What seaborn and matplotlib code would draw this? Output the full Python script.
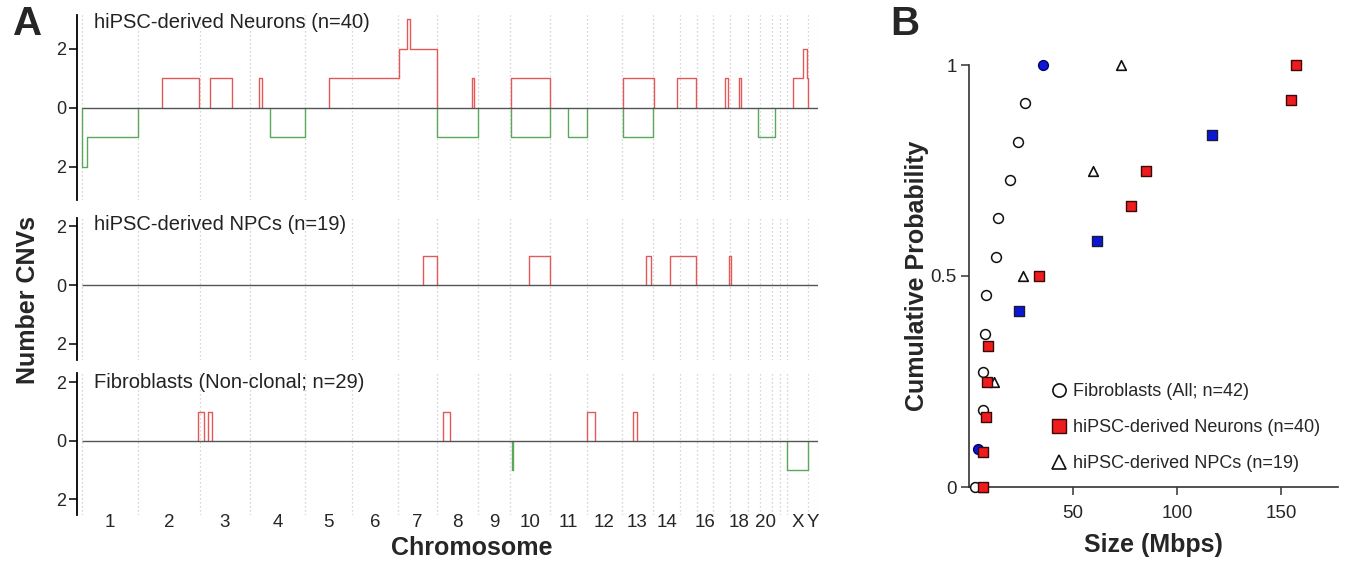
import numpy as np
import pandas as pd
import matplotlib
matplotlib.use("Agg")
import matplotlib.pyplot as plt
import seaborn as sns
from matplotlib.lines import Line2D

sns.set_theme(style="white")
plt.rcParams["font.family"] = ["Liberation Sans", "DejaVu Sans"]

# ---------------- data: panel A ----------------
chrom_names = ["1", "2", "3", "4", "5", "6", "7", "8", "9", "10", "11", "12", "13",
               "14", "15", "16", "17", "18", "19", "20", "21", "22", "X", "Y"]
chrom_sizes = [224, 248, 200, 220, 188, 184, 156, 164, 128, 160, 148, 140, 124,
               108, 68, 64, 68, 72, 48, 48, 32, 28, 84, 40]
chrom_labels_shown = ["1", "2", "3", "4", "5", "6", "7", "8", "9", "10", "11", "12",
                      "13", "14", "16", "18", "20", "X", "Y"]

neuron_gain_start = [320, 512, 708, 988, 1268, 1300, 1560, 1716, 2164, 2380, 2572, 2628, 2844, 2884]
neuron_gain_end = [468, 600, 720, 1420, 1420, 1312, 1568, 1872, 2288, 2456, 2584, 2636, 2904, 2900]
neuron_loss_start = [0, 0, 752, 1420, 1716, 1944, 2164, 2704]
neuron_loss_end = [224, 19, 892, 1584, 1872, 2020, 2284, 2772]

npc_gain_start = [1364, 1788, 2256, 2352, 2588]
npc_gain_end = [1420, 1872, 2276, 2456, 2596]
npc_loss_start = []
npc_loss_end = []

fib_gain_start = [464, 504, 1444, 2020, 2204]
fib_gain_end = [488, 520, 1472, 2052, 2220]
fib_loss_start = [1718, 2820]
fib_loss_end = [1722, 2904]

track_titles = ["hiPSC-derived Neurons (n=40)", "hiPSC-derived NPCs (n=19)",
                "Fibroblasts (Non-clonal; n=29)"]

# ---------------- data: panel B ----------------
fib_size = [2.9, 4.2, 6.6, 6.9, 7.7, 8.2, 13.1, 14.1, 19.7, 23.4, 27.0, 35.4]
fib_prob = [0, 1/11, 2/11, 3/11, 4/11, 5/11, 6/11, 7/11, 8/11, 9/11, 10/11, 1]
fib_highlight = [0, 1, 0, 0, 0, 0, 0, 0, 0, 0, 0, 1]

neu_size = [6.9, 6.9, 8.2, 8.8, 9.0, 23.9, 33.5, 61.4, 78.0, 85.0, 117.0, 154.7, 157.1]
neu_prob = [0, 1/12, 2/12, 3/12, 4/12, 5/12, 6/12, 7/12, 8/12, 9/12, 10/12, 11/12, 1]
neu_highlight = [0, 0, 0, 0, 0, 1, 0, 1, 0, 0, 1, 0, 0]

npc_size = [6.9, 12.0, 25.8, 59.8, 73.0]
npc_prob = [0, 0.25, 0.5, 0.75, 1]

legend_labels = ["Fibroblasts (All; n=42)", "hiPSC-derived Neurons (n=40)",
                 "hiPSC-derived NPCs (n=19)"]

# ---------------- helpers ----------------
bounds = np.concatenate([[0], np.cumsum(chrom_sizes)])
genome_end = bounds[-1]
mids = {n: (bounds[i] + bounds[i + 1]) / 2 for i, n in enumerate(chrom_names)}


def runs(starts, ends):
    """Outline (x, y) of every contiguous non-zero stretch of the coverage step function."""
    if not starts:
        return []
    pts = sorted(set(starts) | set(ends))
    out, xs, ys = [], [], []
    for a, b in zip(pts[:-1], pts[1:]):
        v = sum(1 for s, e in zip(starts, ends) if s <= a and e >= b)
        if v > 0:
            if not xs:
                xs, ys = [a], [0]
            xs += [a, b]
            ys += [v, v]
        else:
            if xs:
                xs.append(xs[-1]); ys.append(0)
                out.append((xs, ys))
                xs, ys = [], []
    if xs:
        xs.append(xs[-1]); ys.append(0)
        out.append((xs, ys))
    return out


fig = plt.figure(figsize=(13.46, 5.62), dpi=100)
W, H = 1346, 562

RED = "#e4585a"
GREEN = "#5aa85a"
ZERO = "#555555"

tracks = [
    (neuron_gain_start, neuron_gain_end, neuron_loss_start, neuron_loss_end, (15, 200), (-3.12, 3.15), 22),
    (npc_gain_start, npc_gain_end, npc_loss_start, npc_loss_end, (218, 360), (-2.56, 2.29), 225),
    (fib_gain_start, fib_gain_end, fib_loss_start, fib_loss_end, (373, 515), (-2.53, 2.32), 383),
]

axL, axR = 77, 818
for i, (gs, ge, ls, le, (ytop, ybot), ylim, ytitle) in enumerate(tracks):
    ax = fig.add_axes([axL / W, 1 - ybot / H, (axR - axL) / W, (ybot - ytop) / H])
    ax.set_xlim(-20, genome_end)
    ax.set_ylim(*ylim)
    for b in bounds:
        ax.axvline(b, color="#c9c9c9", lw=0.9, ls=(0, (1, 2.2)), zorder=0)
    for xs, ys in runs(gs, ge):
        sns.lineplot(x=xs, y=ys, sort=False, estimator=None, color=RED, lw=1.0, ax=ax, zorder=2)
    for xs, ys in runs(ls, le):
        sns.lineplot(x=xs, y=-np.array(ys), sort=False, estimator=None, color=GREEN, lw=1.0, ax=ax, zorder=2)
    ax.hlines(0, 0, genome_end, color=ZERO, lw=1.0, zorder=3)
    for s in ["top", "right", "bottom"]:
        ax.spines[s].set_visible(False)
    ax.spines["left"].set_color("black")
    ax.spines["left"].set_linewidth(1.3)
    ax.set_yticks([-2, 0, 2])
    ax.set_yticklabels(["2", "0", "2"])
    ax.tick_params(axis="y", direction="out", length=6, width=1.1, labelsize=13, pad=2,
                   left=True, color="black")
    if i < 2:
        ax.set_xticks([])
    else:
        ax.set_xticks([mids[n] for n in chrom_labels_shown])
        ax.set_xticklabels(chrom_labels_shown)
        ax.tick_params(axis="x", length=0, labelsize=13.5, pad=-1)
    ax.set_xlabel("")
    ax.set_ylabel("")
    ax.text(0.023, 1 - (ytitle - ytop) / (ybot - ytop), track_titles[i],
            transform=ax.transAxes, fontsize=14.5, va="center", ha="left",
            color="#222222")

fig.text(28 / W, 1 - 300 / H, "Number CNVs", rotation=90, fontsize=18, fontweight="bold",
         ha="center", va="center")
fig.text(472 / W, 1 - 548 / H, "Chromosome", fontsize=18, fontweight="bold",
         ha="center", va="center")
fig.text(28 / W, 1 - 24 / H, "A", fontsize=29, fontweight="bold", ha="center", va="center")
fig.text(905 / W, 1 - 24 / H, "B", fontsize=29, fontweight="bold", ha="center", va="center")

# ---------------- panel B ----------------
bx0, bx1, by0, by1 = 969, 1338, 65, 487
axb = fig.add_axes([bx0 / W, 1 - by1 / H, (bx1 - bx0) / W, (by1 - by0) / H])
axb.set_xlim(0, 177.4)
axb.set_ylim(0, 1)

fib = pd.DataFrame({"size": fib_size, "prob": fib_prob, "hl": fib_highlight})
neu = pd.DataFrame({"size": neu_size, "prob": neu_prob, "hl": neu_highlight})
npc = pd.DataFrame({"size": npc_size, "prob": npc_prob})

BLUE = "#0b16d6"
REDF = "#ee1c1c"
sns.scatterplot(data=fib[fib.hl == 0], x="size", y="prob", marker="o", s=50,
                facecolor="white", edgecolor="#111111", linewidth=1.1, ax=axb,
                clip_on=False, zorder=3)
sns.scatterplot(data=fib[fib.hl == 1], x="size", y="prob", marker="o", s=50,
                color=BLUE, edgecolor="#00006a", linewidth=1.0, ax=axb,
                clip_on=False, zorder=3)
sns.scatterplot(data=npc, x="size", y="prob", marker="^", s=48,
                facecolor="white", edgecolor="#111111", linewidth=1.2, ax=axb,
                clip_on=False, zorder=3)
sns.scatterplot(data=neu[neu.hl == 0], x="size", y="prob", marker="s", s=55,
                color=REDF, edgecolor="#3a0a0a", linewidth=1.0, ax=axb,
                clip_on=False, zorder=4)
sns.scatterplot(data=neu[neu.hl == 1], x="size", y="prob", marker="s", s=55,
                color=BLUE, edgecolor="#1a1a3a", linewidth=1.0, ax=axb,
                clip_on=False, zorder=4)

for s in ["top", "right"]:
    axb.spines[s].set_visible(False)
for s in ["left", "bottom"]:
    axb.spines[s].set_color("#333333")
    axb.spines[s].set_linewidth(1.2)
axb.set_xticks([50, 100, 150])
axb.set_xticklabels(["50", "100", "150"])
axb.set_yticks([0, 0.5, 1])
axb.set_yticklabels(["0", "0.5", "1"])
axb.tick_params(direction="out", length=6, width=1.1, labelsize=13.5, left=True,
                bottom=True, color="#333333", pad=3)
axb.tick_params(axis="x", pad=7)
axb.set_xlabel("Size (Mbps)", fontsize=18, fontweight="bold", labelpad=8)
axb.set_ylabel("Cumulative Probability", fontsize=18, fontweight="bold", labelpad=1)

handles = [
    Line2D([], [], ls="", marker="o", ms=9.5, mfc="white", mec="#111111", mew=1.2),
    Line2D([], [], ls="", marker="s", ms=9.5, mfc=REDF, mec="#3a0a0a", mew=1.0),
    Line2D([], [], ls="", marker="^", ms=9.5, mfc="white", mec="#111111", mew=1.2),
]
axb.legend(handles, legend_labels, loc="lower left", bbox_to_anchor=(0.19, 0.005),
           frameon=False, fontsize=13, handlelength=0.8, handletextpad=0.35,
           labelspacing=1.05, borderpad=0.2)

fig.savefig("out.png", dpi=100)
